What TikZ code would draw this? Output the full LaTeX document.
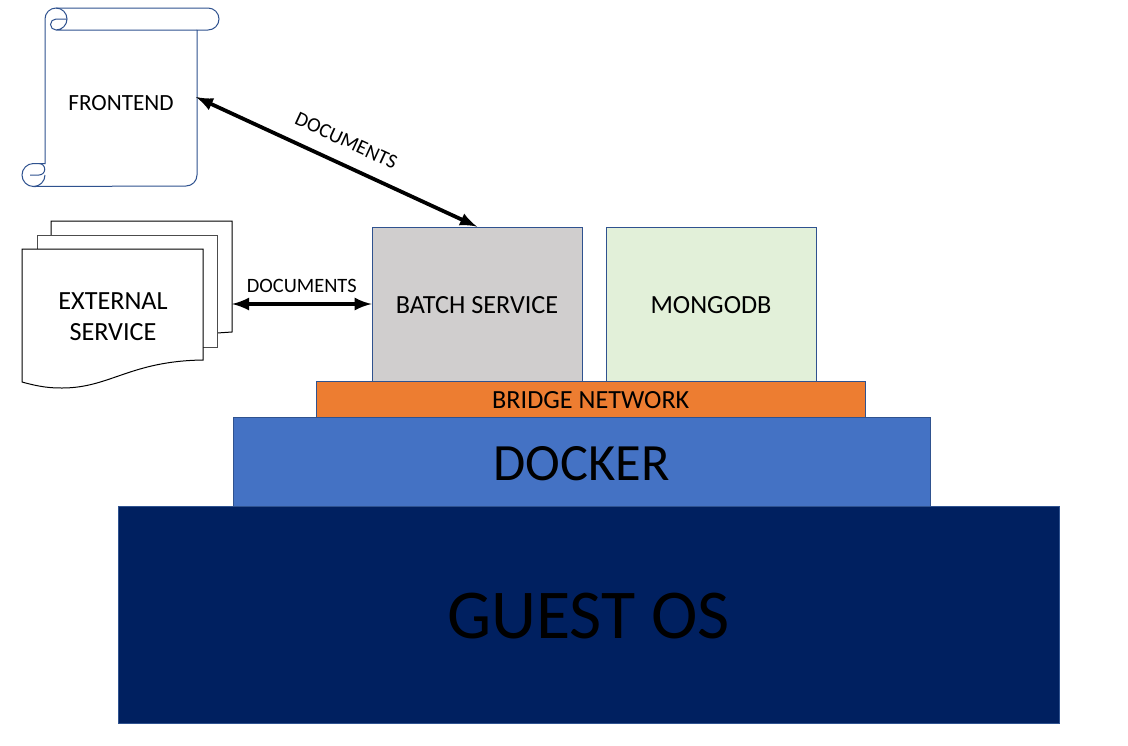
\documentclass[tikz,border=0pt]{standalone}
\usepackage{fontspec}
\setmainfont{Carlito}
\usepackage{xcolor}
\usetikzlibrary{arrows}

\definecolor{navyblue}{HTML}{002060}
\definecolor{dockerblue}{HTML}{4472C4}
\definecolor{edgeblue}{HTML}{2F528F}
\definecolor{bridgeorange}{HTML}{ED7D31}
\definecolor{batchgray}{HTML}{D0CECE}
\definecolor{mongogreen}{HTML}{E2F0D9}

\tikzset{
  layer/.style={draw=edgeblue, line width=0.4pt, inner sep=0pt, text=black, text depth=0pt},
  smalllayer/.style={layer, font=\fontsize{13.1}{16}\selectfont, text height=9.4pt},
  sheet/.style={draw=black, fill=white, line width=0.5pt},
  scroll/.style={draw=edgeblue, fill=white, line width=0.5pt},
  anchorbox/.style={inner sep=0pt, outer sep=0pt},
  link/.style={<->, >=latex, line width=1.9pt, black}
}

\begin{document}
\begin{tikzpicture}[x=0.5pt, y=-0.5pt]

        \useasboundingbox (0,0) rectangle (1128,745);

        % Stack of layers
        \node[layer, fill=navyblue, minimum width=470.5pt, minimum height=108.5pt, font=\fontsize{35}{42}\selectfont, text height=24pt] (guest) at (588.5,614.5) {GUEST OS};
        \node[layer, fill=dockerblue, minimum width=348.5pt, minimum height=44.5pt, font=\fontsize{26.2}{31}\selectfont, text height=19pt] (docker) at (581.75,461.5) {DOCKER};
        \node[smalllayer, fill=bridgeorange, minimum width=274.5pt, minimum height=18pt] (bridge) at (590.75,399) {BRIDGE NETWORK};
        \node[smalllayer, fill=batchgray, minimum width=105pt, minimum height=77pt] (batch) at (477,304) {BATCH SERVICE};
        \node[smalllayer, fill=mongogreen, minimum width=105pt, minimum height=77pt] (mongo) at (711,304) {MONGODB};

        % Frontend scroll
        \draw[scroll] (45,30) -- (45,19) arc[start angle=180, end angle=270, radius=11] -- (208,8)
             arc[start angle=270, end angle=450, radius=11] -- (197,30) -- (197,175)
             arc[start angle=0, end angle=90, radius=11] -- (33.5,186.5) arc[start angle=90, end angle=270, radius=11.5] -- (45,163.5) -- (45,30);
        \draw[scroll, fill=none] (45,175) arc[start angle=0, end angle=90, radius=11.5];
        \draw[scroll, fill=none] (39,163.5) arc[start angle=-90, end angle=90, radius=5.75] -- (30,175);
        \draw[scroll, fill=none] (197,30) -- (56,30) arc[start angle=90, end angle=-90, radius=11];
        \draw[scroll, fill=none] (56,30) arc[start angle=90, end angle=270, radius=5.5] -- (67,19);
        \node[anchorbox, minimum width=76pt, minimum height=89pt] (frontend) at (120,97) {};
        \node[anchorbox, font=\fontsize{11.6}{14}\selectfont] (frontendlabel) at (121,103) {FRONTEND};

        % External service, three sheets
        \draw[sheet] (51,235) -- (51,221) -- (232,221) -- (232,332) -- (217,333);
        \draw[sheet, draw=black!70] (37,249) -- (37,235) -- (217,235) -- (217,347) -- (203,347);
        \draw[sheet] (22,249) -- (203,249) -- (203,360) .. controls (130,361) and (110,388) .. (62,388) .. controls (50,388) and (40,387) .. (22,382) -- cycle;
        \node[anchorbox, minimum width=105pt, minimum height=83pt] (external) at (127,304) {};
        \node[anchorbox, align=center, font=\fontsize{13.1}{15.5}\selectfont] (externallabel) at (113,317) {EXTERNAL\\SERVICE};

        % Links
        \draw[link] (frontend.east) -- (batch.north) node[midway, sloped, above=4pt, font=\fontsize{10.2}{12}\selectfont] (toplabel) {DOCUMENTS};
        \draw[link] (external.east) -- (batch.west) node[midway, above=1.5pt, font=\fontsize{10.2}{12}\selectfont] (sidelabel) {DOCUMENTS};

\end{tikzpicture}
\end{document}
